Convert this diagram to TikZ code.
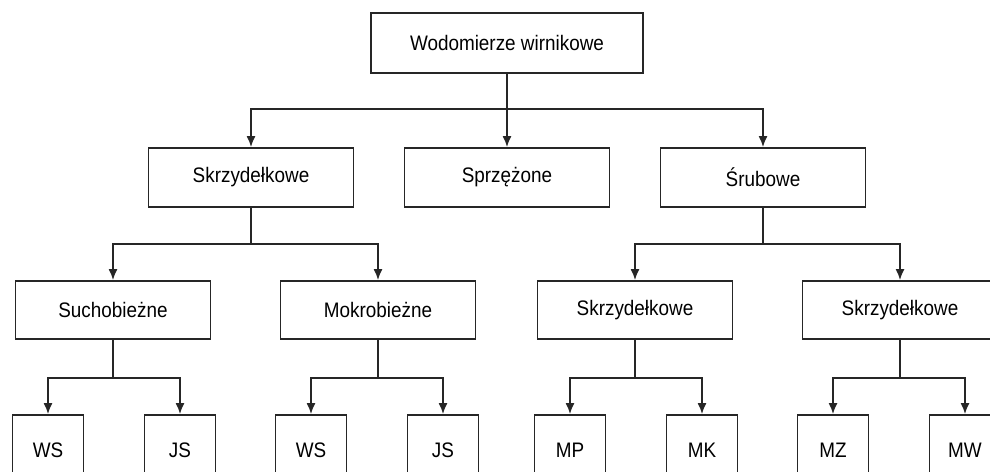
\documentclass[tikz,border=0pt]{standalone}
\usepackage{fontspec}
\setmainfont[FakeStretch=0.9]{Liberation Sans}
\usetikzlibrary{arrows.meta}
\definecolor{lnA}{HTML}{262626}
\tikzset{
  box/.style={draw=lnA, line width=1.8pt, fill=white, inner sep=0pt,
    font=\fontsize{21}{25}\selectfont},
  topbox/.style={box, minimum width=272pt, minimum height=60pt},
  lvone/.style={box, minimum width=205pt, minimum height=59pt},
  lvtwo/.style={box, minimum width=195pt, minimum height=58pt},
  leaf/.style={box, minimum width=71pt, minimum height=70pt},
  arr/.style={draw=lnA, line width=1.6pt, -{Latex[length=11pt,width=9pt]}}
}

\begin{document}
\begin{tikzpicture}[x=1pt, y=1pt]
  \clip (0,0) rectangle (990,471);

  % ---- top ----
  \node[topbox] (wod) at (507,428) {Wodomierze wirnikowe};

  % ---- first level ----
  \foreach \n/\x/\t in {skr/251/Skrzydełkowe, spr/507/Sprzężone, sru/763/Śrubowe} {
    \node[lvone] (\n) at (\x,293.5) {\t};
  }
  \draw[arr] (wod.south) -- (spr.north);
  \foreach \c in {skr, sru}
    \draw[arr] (wod.south) -- ++(0,-35) -| (\c.north);

  % ---- second level ----
  \foreach \n/\x/\t in {such/113/Suchobieżne, mok/378/Mokrobieżne,
                        skA/635/Skrzydełkowe, skB/900/Skrzydełkowe} {
    \node[lvtwo] (\n) at (\x,161) {\t};
  }
  \foreach \p/\c in {skr/such, skr/mok, sru/skA, sru/skB}
    \draw[arr] (\p.south) -- ++(0,-36) -| (\c.north);

  % ---- leaves ----
  \foreach \n/\x/\t/\p in {wsA/48/WS/such, jsA/180/JS/such,
                           wsB/311/WS/mok, jsB/443/JS/mok,
                           mp/570/MP/skA, mk/702/MK/skA,
                           mz/833/MZ/skB, mw/965/MW/skB} {
    \node[leaf] (\n) at (\x,21) {\t};
    \draw[arr] (\p.south) -- ++(0,-38) -| (\n.north);
  }
\end{tikzpicture}
\end{document}
